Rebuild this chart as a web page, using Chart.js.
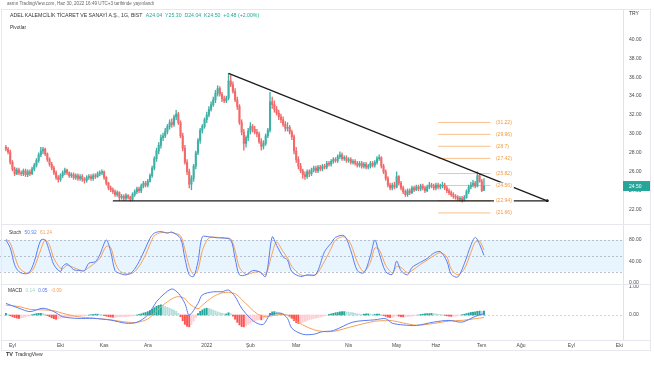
<!DOCTYPE html>
<html lang="tr">
<head>
  <meta charset="UTF-8">
  <title>ADEL - Günlük grafik</title>
  <script src="https://cdn.jsdelivr.net/npm/chart.js"></script>
  <style>
    body {
      margin: 0;
      width: 654px;
      height: 366px;
      position: relative;
      overflow: hidden;
      background: #fff;
      font-family: 'Liberation Sans', Arial, sans-serif;
      color: #131722;
    }
    canvas, .txt, .line { position: absolute; }
    .txt { white-space: nowrap; line-height: 1; }
    .line { background: #e6e8ee; }
    #pub { left: 7px; top: 2px; font-size: 4.6px; color: #666; }
    #title { left: 10px; top: 13px; font-size: 5.2px; color: #333; }
    #title .v { color: #26a69a; margin-left: 2px; }
    #piv { left: 10px; top: 26px; font-size: 4.8px; color: #333; }
    #unit { left: 629px; top: 11px; font-size: 5px; color: #333; }
    #stochLeg { left: 9px; top: 231px; font-size: 4.8px; color: #333; }
    #macdLeg { left: 8px; top: 289px; font-size: 4.8px; color: #333; }
    .blue { color: #5a7cf2; margin-left: 2px; }
    .orange { color: #f5a05a; margin-left: 2px; }
    .teal { color: #9fd6cf; margin-left: 2px; }
    #logo { left: 6px; top: 352px; font-size: 5px; color: #333; }
    #logo b { font-size: 5.5px; margin-right: 2px; }
  </style>
</head>
<body>

  <canvas id="priceChart" width="654" height="215" style="left:0;top:9px"></canvas>
  <canvas id="stochChart" width="654" height="59" style="left:0;top:225px"></canvas>
  <canvas id="macdChart" width="654" height="66" style="left:0;top:284px"></canvas>

  <div class="line" style="left:1px;top:9px;width:650px;height:1px"></div>
  <div class="line" style="left:1px;top:224px;width:650px;height:1px"></div>
  <div class="line" style="left:1px;top:284px;width:650px;height:1px"></div>
  <div class="line" style="left:1px;top:340px;width:650px;height:1px"></div>
  <div class="line" style="left:1px;top:350px;width:650px;height:1px"></div>
  <div class="line" style="left:1px;top:9px;width:1px;height:342px"></div>
  <div class="line" style="left:650px;top:9px;width:1px;height:342px"></div>

  <div class="txt" id="pub">asmn TradingView.com, Haz 30, 2022 16:49 UTC+3 tarihinde yayınlandı</div>
  <div class="txt" id="title">ADEL KALEMCİLİK TİCARET VE SANAYİ A.Ş., 1G, BIST <span class="v">A24.04 &nbsp;Y25.30 &nbsp;D24.04 &nbsp;K24.50 &nbsp;+0.48 (+2.00%)</span></div>
  <div class="txt" id="piv">Pivotlar</div>
  <div class="txt" id="unit">TRY</div>
  <div class="txt" id="stochLeg">Stoch <span class="blue">50.92</span> <span class="orange">61.24</span></div>
  <div class="txt" id="macdLeg">MACD <span class="teal">0.14</span> <span class="blue">0.05</span> <span class="orange">-0.09</span></div>
  <div class="txt" id="logo"><b>TV</b>TradingView</div>

  <script>
    // daily bars, index 0 = first trading day of Sep 2021
    const firstBar = -3;

    const openP = [
      28.6, 28.4, 28.1, 27.0, 26.3, 25.8, 26.2, 25.9, 25.8, 26.1,
      25.7, 26.0, 25.8, 26.3, 26.7, 27.2, 27.8, 28.2, 28.4, 27.9,
      27.3, 26.8, 26.4, 25.9, 25.4, 25.2, 25.6, 25.9, 26.2, 25.9,
      25.6, 25.7, 25.4, 25.6, 25.3, 25.5, 25.2, 25.1, 25.4, 25.5,
      25.3, 25.6, 25.5, 25.8, 25.9, 26.0, 25.4, 24.8, 24.3, 24.1,
      23.9, 23.6, 23.8, 23.3, 23.4, 23.2, 23.5, 23.3, 23.1, 23.6,
      23.9, 24.2, 24.0, 24.5, 24.8, 24.6, 25.0, 25.6, 26.4, 27.4,
      28.2, 28.8, 29.6, 29.8, 30.3, 30.8, 31.2, 31.0, 31.8, 32.1,
      31.2, 29.8, 28.5, 27.0, 26.0, 24.7, 25.3, 26.6, 28.0, 29.3,
      30.4, 30.8, 31.5, 32.0, 32.6, 33.1, 33.6, 34.3, 34.8, 34.2,
      33.7, 33.5, 33.8, 35.6, 35.2, 34.5, 33.6, 32.9, 31.2, 30.2,
      29.0, 29.6, 30.3, 30.8, 30.5, 30.2, 30.0, 29.2, 28.7, 29.0,
      29.8, 30.4, 33.4, 33.1, 32.6, 32.2, 31.8, 31.5, 31.0, 30.6,
      30.7, 30.2, 29.7, 28.2, 27.3, 26.6, 26.1, 25.7, 25.5, 26.0,
      25.8, 26.2, 26.4, 26.1, 26.5, 26.3, 26.6, 26.5, 26.9, 26.8,
      27.1, 27.3, 27.2, 27.6, 27.8, 27.4, 27.5, 27.2, 27.3, 27.0,
      27.1, 26.9, 26.7, 26.9, 26.6, 26.8, 26.5, 26.6, 26.9, 26.7,
      27.0, 27.4, 27.5, 26.6, 26.0, 25.3, 24.6, 24.3, 24.6, 24.4,
      25.5, 24.8, 24.3, 23.9, 23.6, 24.0, 23.8, 24.3, 24.1, 24.4,
      24.2, 24.5, 24.3, 24.0, 24.4, 24.6, 24.5, 24.3, 24.6, 24.4,
      24.5, 24.6, 24.3, 24.0, 23.8, 23.6, 23.4, 23.3, 23.1, 23.2,
      23.0, 23.3, 23.9, 24.4, 24.6, 24.8, 24.5, 25.6, 25.0, 24.04
    ];
    const highP = [
      28.8, 28.6, 28.3, 27.2, 26.5, 26.4, 26.4, 26.1, 26.3, 26.3,
      26.2, 26.2, 26.5, 26.9, 27.4, 28.0, 28.6, 28.6, 28.5, 28.0,
      27.5, 27.0, 26.6, 26.1, 25.6, 25.8, 26.1, 26.4, 26.3, 26.0,
      25.9, 25.9, 25.8, 25.8, 25.7, 25.7, 25.4, 25.6, 25.7, 25.7,
      25.8, 25.8, 26.0, 26.1, 26.2, 26.1, 25.5, 24.9, 24.5, 24.3,
      24.1, 24.0, 23.9, 23.6, 23.6, 23.7, 23.6, 23.4, 23.8, 24.1,
      24.4, 24.4, 24.7, 25.0, 25.0, 25.2, 25.8, 26.6, 27.6, 28.5,
      29.1, 29.9, 30.1, 30.6, 31.0, 31.5, 31.6, 32.0, 32.5, 32.3,
      31.4, 30.1, 28.8, 27.3, 26.3, 25.6, 26.8, 28.2, 29.5, 30.6,
      31.0, 31.7, 32.3, 32.9, 33.4, 33.9, 34.6, 35.1, 35.0, 34.4,
      34.0, 34.0, 36.4, 36.2, 35.5, 34.8, 33.9, 33.1, 31.5, 30.5,
      29.8, 30.6, 31.2, 31.0, 30.8, 30.5, 30.2, 29.5, 29.3, 30.0,
      30.6, 34.4, 33.9, 33.5, 32.9, 32.5, 32.1, 31.8, 31.3, 31.2,
      30.9, 30.4, 29.9, 28.6, 27.6, 26.9, 26.3, 26.0, 26.2, 26.2,
      26.4, 26.6, 26.6, 26.7, 26.7, 26.8, 26.8, 27.1, 27.1, 27.3,
      27.5, 27.5, 27.8, 28.1, 28.0, 27.7, 27.7, 27.5, 27.5, 27.3,
      27.3, 27.1, 27.1, 27.1, 27.0, 27.0, 26.8, 27.1, 27.1, 27.2,
      27.6, 27.8, 27.6, 26.8, 26.2, 25.5, 24.8, 24.8, 24.9, 26.0,
      25.6, 25.0, 24.5, 24.1, 24.2, 24.2, 24.5, 24.5, 24.6, 24.6,
      24.7, 24.7, 24.5, 24.6, 24.9, 24.8, 24.7, 24.8, 24.8, 24.7,
      24.9, 24.8, 24.5, 24.2, 24.0, 23.8, 23.6, 23.5, 23.4, 23.4,
      23.5, 24.1, 24.6, 24.9, 25.1, 25.0, 26.0, 25.8, 25.2, 25.30
    ];
    const lowP = [
      28.2, 27.9, 26.8, 26.1, 25.6, 25.7, 25.7, 25.6, 25.6, 25.5,
      25.5, 25.6, 25.7, 26.1, 26.5, 27.0, 27.6, 27.9, 27.7, 27.1,
      26.6, 26.2, 25.7, 25.2, 24.9, 25.0, 25.4, 25.7, 25.7, 25.4,
      25.4, 25.2, 25.2, 25.1, 25.1, 25.0, 24.8, 24.9, 25.2, 25.1,
      25.1, 25.3, 25.4, 25.6, 25.7, 25.2, 24.6, 24.1, 23.9, 23.7,
      23.4, 23.4, 22.95, 23.1, 22.95, 23.0, 23.1, 22.9, 22.95, 23.4,
      23.7, 23.8, 23.8, 24.3, 24.4, 24.4, 24.9, 25.4, 26.2, 27.1,
      27.9, 28.5, 29.3, 29.6, 30.0, 30.5, 30.7, 30.8, 31.5, 31.0,
      29.6, 28.2, 26.8, 25.7, 24.3, 24.1, 25.0, 26.3, 27.8, 29.0,
      30.1, 30.6, 31.2, 31.8, 32.4, 32.9, 33.3, 34.0, 34.0, 33.4,
      33.3, 33.3, 33.6, 35.0, 34.3, 33.4, 32.6, 31.0, 29.9, 28.3,
      28.6, 29.3, 30.0, 30.2, 30.0, 29.7, 29.0, 28.3, 28.4, 28.8,
      29.6, 30.2, 32.7, 32.3, 32.0, 31.5, 31.2, 30.8, 30.3, 30.3,
      30.0, 29.4, 27.9, 27.0, 26.3, 25.9, 25.3, 25.2, 25.3, 25.5,
      25.6, 26.0, 25.9, 25.9, 26.1, 26.1, 26.3, 26.3, 26.6, 26.6,
      26.9, 27.0, 27.0, 27.4, 27.2, 27.2, 27.0, 27.0, 26.8, 26.8,
      26.7, 26.5, 26.5, 26.4, 26.4, 26.3, 26.3, 26.4, 26.5, 26.5,
      26.8, 27.2, 26.4, 25.8, 25.1, 24.4, 24.1, 24.1, 24.2, 24.3,
      24.6, 24.1, 23.7, 23.4, 23.4, 23.6, 23.7, 23.9, 24.0, 24.0,
      24.0, 24.1, 23.8, 23.9, 24.2, 24.3, 24.1, 24.1, 24.2, 24.2,
      24.3, 24.1, 23.8, 23.6, 23.4, 23.2, 23.1, 22.95, 22.9, 22.8,
      22.9, 23.2, 23.7, 24.2, 24.4, 24.3, 24.4, 24.9, 23.9, 24.04
    ];
    const closeP = [
      28.4, 28.1, 27.0, 26.3, 25.8, 26.2, 25.9, 25.8, 26.1, 25.7,
      26.0, 25.8, 26.3, 26.7, 27.2, 27.8, 28.2, 28.4, 27.9, 27.3,
      26.8, 26.4, 25.9, 25.4, 25.2, 25.6, 25.9, 26.2, 25.9, 25.6,
      25.7, 25.4, 25.6, 25.3, 25.5, 25.2, 25.1, 25.4, 25.5, 25.3,
      25.6, 25.5, 25.8, 25.9, 26.0, 25.4, 24.8, 24.3, 24.1, 23.9,
      23.6, 23.8, 23.3, 23.4, 23.2, 23.5, 23.3, 23.1, 23.6, 23.9,
      24.2, 24.0, 24.5, 24.8, 24.6, 25.0, 25.6, 26.4, 27.4, 28.2,
      28.8, 29.6, 29.8, 30.3, 30.8, 31.2, 31.0, 31.8, 32.1, 31.2,
      29.8, 28.5, 27.0, 26.0, 24.7, 25.3, 26.6, 28.0, 29.3, 30.4,
      30.8, 31.5, 32.0, 32.6, 33.1, 33.6, 34.3, 34.8, 34.2, 33.7,
      33.5, 33.8, 35.6, 35.2, 34.5, 33.6, 32.9, 31.2, 30.2, 29.0,
      29.6, 30.3, 30.8, 30.5, 30.2, 30.0, 29.2, 28.7, 29.0, 29.8,
      30.4, 33.4, 33.1, 32.6, 32.2, 31.8, 31.5, 31.0, 30.6, 30.7,
      30.2, 29.7, 28.2, 27.3, 26.6, 26.1, 25.7, 25.5, 26.0, 25.8,
      26.2, 26.4, 26.1, 26.5, 26.3, 26.6, 26.5, 26.9, 26.8, 27.1,
      27.3, 27.2, 27.6, 27.8, 27.4, 27.5, 27.2, 27.3, 27.0, 27.1,
      26.9, 26.7, 26.9, 26.6, 26.8, 26.5, 26.6, 26.9, 26.7, 27.0,
      27.4, 27.5, 26.6, 26.0, 25.3, 24.6, 24.3, 24.6, 24.4, 25.5,
      24.8, 24.3, 23.9, 23.6, 24.0, 23.8, 24.3, 24.1, 24.4, 24.2,
      24.5, 24.3, 24.0, 24.4, 24.6, 24.5, 24.3, 24.6, 24.4, 24.5,
      24.6, 24.3, 24.0, 23.8, 23.6, 23.4, 23.3, 23.1, 23.2, 23.0,
      23.3, 23.9, 24.4, 24.6, 24.8, 24.5, 25.6, 25.0, 24.02, 24.50
    ];

    // drawings
    const trendIdx = [99, 245];
    const trendPrice = [36.4, 22.94];
    const supportIdx = [46, 245];
    const supportPrice = [22.94, 22.94];
    const pivotLevels = [31.22, 29.96, 28.7, 27.42, 25.82, 24.56, 22.94, 21.66];
    const pivotSpan = [195, 219];
    const pivotLabelAt = 221.5;

    // stochastic (sampled)
    const stochIdx = [-3, -1, 1, 3, 6, 8, 10, 13, 15, 17, 19, 22, 23, 25, 28, 31, 33, 35, 38, 40,
      43, 45, 47, 49, 52, 55, 58, 61, 63, 65, 68, 71, 73, 77, 79, 81, 83, 85, 87, 90,
      94, 96, 100, 102, 104, 107, 110, 113, 116, 119, 121, 124, 126, 128, 132, 135, 139, 143, 146, 148,
      152, 155, 158, 161, 164, 166, 168, 171, 174, 176, 178, 181, 183, 187, 190, 193, 196, 199, 201, 204,
      207, 210, 212, 214, 216];
    const stochK = [80, 65, 33, 20, 16, 20, 39, 80, 80, 58, 33, 20, 30, 35, 24, 22, 22, 36, 39, 52,
      80, 58, 22, 17, 14, 20, 39, 65, 83, 93, 96, 93, 95, 83, 45, 14, 11, 39, 86, 86,
      84, 84, 80, 45, 14, 14, 22, 20, 11, 86, 70, 48, 42, 20, 11, 14, 15, 58, 74, 85,
      88, 60, 22, 18, 50, 80, 55, 20, 15, 40, 22, 14, 28, 38, 45, 55, 58, 40, 15, 10,
      35, 70, 85, 72, 50.92];
    const stochD = [82, 74, 50, 28, 18, 18, 28, 62, 80, 70, 45, 26, 25, 32, 28, 23, 22, 28, 37, 45,
      68, 66, 38, 22, 16, 17, 30, 52, 72, 88, 94, 94, 94, 88, 62, 30, 14, 24, 60, 84,
      85, 84, 82, 60, 28, 15, 18, 20, 15, 55, 76, 58, 46, 30, 14, 13, 14, 40, 64, 80,
      86, 72, 38, 20, 38, 65, 62, 32, 18, 30, 28, 18, 22, 34, 42, 50, 56, 48, 25, 14,
      25, 56, 76, 78, 61.24];
    const stochBand = [80, 20];
    const stochLevels = [80, 50, 20];

    // MACD
    const macdIdx = [-3, 3, 8, 14, 19, 23, 30, 37, 45, 52, 57, 62, 66, 69, 73, 76, 79, 81, 85, 87,
      92, 96, 99, 102, 105, 109, 112, 115, 118, 123, 126, 128, 133, 138, 142, 147, 156, 166, 171, 174,
      179, 185, 193, 200, 206, 212, 216];
    const macdLine = [0.41, 0.24, 0.12, 0.24, 0.12, -0.06, -0.12, -0.12, -0.18, -0.29,
      -0.26, 0.00, 0.47, 0.71, 0.92, 0.77, 0.41, 0.00, 0.41, 0.71,
      0.82, 0.82, 0.88, 0.65, 0.24, -0.12, -0.29, -0.33, 0.00, 0.06,
      -0.12, -0.47, -0.68, -0.68, -0.59, -0.55, -0.25, -0.17, -0.13, -0.29,
      -0.35, -0.37, -0.25, -0.19, -0.25, -0.05, 0.05];
    const signalLine = [0.35, 0.30, 0.20, 0.18, 0.15, 0.06, -0.06, -0.11, -0.17, -0.25,
      -0.26, -0.14, 0.14, 0.35, 0.57, 0.65, 0.58, 0.40, 0.22, 0.35,
      0.65, 0.78, 0.80, 0.75, 0.55, 0.25, 0.05, -0.05, -0.04, 0.02,
      -0.01, -0.12, -0.35, -0.52, -0.58, -0.58, -0.40, -0.22, -0.20, -0.20,
      -0.28, -0.36, -0.30, -0.21, -0.19, -0.13, -0.09];
    const macdHist = [
      0.06, 0.02, -0.03, -0.06, -0.09, -0.11, -0.12, -0.10, -0.09, -0.07,
      -0.04, -0.02, 0.01, 0.03, 0.05, 0.06, 0.06, 0.05, 0.03, -0.02,
      -0.06, -0.10, -0.13, -0.15, -0.14, -0.12, -0.10, -0.08, -0.07, -0.06,
      -0.06, -0.05, -0.05, -0.04, -0.04, -0.03, -0.02, -0.01, 0.00, 0.01,
      0.02, 0.03, 0.03, 0.02, 0.01, -0.02, -0.04, -0.06, -0.07, -0.08,
      -0.08, -0.08, -0.07, -0.07, -0.06, -0.06, -0.05, -0.04, -0.03, -0.02,
      0.00, 0.02, 0.04, 0.07, 0.09, 0.12, 0.16, 0.21, 0.26, 0.31,
      0.34, 0.36, 0.33, 0.30, 0.27, 0.24, 0.20, 0.17, 0.13, 0.06,
      -0.06, -0.20, -0.33, -0.40, -0.42, -0.34, -0.22, -0.09, 0.05, 0.13,
      0.18, 0.22, 0.24, 0.23, 0.20, 0.17, 0.14, 0.11, 0.08, 0.06,
      0.04, 0.04, 0.08, 0.05, -0.04, -0.15, -0.26, -0.35, -0.41, -0.42,
      -0.38, -0.33, -0.28, -0.24, -0.21, -0.18, -0.16, -0.17, -0.15, -0.10,
      -0.05, 0.06, 0.11, 0.12, 0.11, 0.09, 0.07, 0.05, 0.03, 0.01,
      -0.05, -0.12, -0.20, -0.27, -0.30, -0.29, -0.26, -0.23, -0.19, -0.17,
      -0.15, -0.13, -0.11, -0.09, -0.07, -0.05, -0.03, -0.01, 0.02, 0.04,
      0.06, 0.08, 0.09, 0.11, 0.12, 0.12, 0.11, 0.10, 0.09, 0.08,
      0.06, 0.04, 0.03, 0.02, 0.03, 0.04, 0.04, 0.03, 0.02, 0.02,
      0.03, 0.03, 0.01, -0.02, -0.05, -0.08, -0.09, -0.08, -0.06, -0.03,
      -0.04, -0.06, -0.07, -0.07, -0.06, -0.05, -0.04, -0.03, -0.01, 0.00,
      0.02, 0.03, 0.04, 0.05, 0.05, 0.06, 0.05, 0.04, 0.03, 0.02,
      0.01, -0.01, -0.03, -0.04, -0.05, -0.05, -0.04, -0.03, -0.01, 0.01,
      0.03, 0.05, 0.07, 0.09, 0.10, 0.11, 0.13, 0.14, 0.13, 0.14
    ];

    // x axis: month starts (bar index) and labels
    const monthIdx = [0, 22, 42, 62, 89, 109, 130, 154, 176, 194, 215, 233, 256, 278];
    const monthLabels = ['Eyl', 'Eki', 'Kas', 'Ara', '2022', 'Şub', 'Mar', 'Nis', 'May', 'Haz', 'Tem', 'Ağu', 'Eyl', 'Eki'];

    const xMin = -5.7, xMax = 279.7;
    const FONT = "'Liberation Sans', Arial, sans-serif";
    const UP = '#3fb0a5', DOWN = '#f2696a';

    const bars = closeP.map((_, i) => firstBar + i);
    const candleColor = closeP.map((c, i) => c >= openP[i] ? UP : DOWN);
    const pts = (xs, ys) => xs.map((x, i) => ({ x, y: ys[i] }));

    function rightAxis(min, max, step) {
      return {
        position: 'right', min, max,
        grid: { display: false, drawTicks: false },
        border: { display: true, color: '#e0e3eb' },
        ticks: {
          stepSize: step, includeBounds: false, padding: 6,
          color: '#4a4a4a', font: { size: 5, family: FONT },
          callback: v => v.toFixed(2)
        },
        afterFit: s => { s.width = 27; s.paddingTop = 0; s.paddingBottom = 0; }
      };
    }
    // offset:false, otherwise bar charts pad the linear x range
    const hiddenX = { type: 'linear', min: xMin, max: xMax, offset: false, display: false };

    function baseOptions(scales) {
      return {
        responsive: false,
        animation: false,
        events: [],
        layout: { autoPadding: false, padding: { left: 0, right: 4, top: 0, bottom: 0 } },
        plugins: { legend: { display: false }, tooltip: { enabled: false } },
        scales
      };
    }

    const priceOverlay = {
      id: 'priceOverlay',
      afterDatasetsDraw(chart) {
        const { ctx, scales: { x, y } } = chart;
        ctx.save();
        ctx.font = '5px ' + FONT;
        ctx.textBaseline = 'middle';
        pivotLevels.forEach(lv => {
          const txt = '(' + lv + ')';
          const px = x.getPixelForValue(pivotLabelAt), py = y.getPixelForValue(lv);
          const w = ctx.measureText(txt).width;
          ctx.fillStyle = '#fff';
          ctx.fillRect(px - 2, py - 3, w + 4, 6);
          ctx.fillStyle = '#f29a3f';
          ctx.fillText(txt, px, py);
        });
        const last = closeP[closeP.length - 1];
        const ty = y.getPixelForValue(last);
        ctx.fillStyle = '#26a69a';
        ctx.fillRect(y.left, ty - 5, y.width, 10);
        ctx.fillStyle = '#fff';
        ctx.fillText(last.toFixed(2), y.left + 6, ty + 0.5);
        ctx.restore();
      }
    };

    const priceY = rightAxis(20.49, 43.2, 2);
    priceY.afterBuildTicks = s => { s.ticks = s.ticks.filter(t => t.value <= 40); };

    // small dot only at the apex end of the two drawn lines
    const apexDot = [0, 1.3];

    new Chart(document.getElementById('priceChart'), {
      type: 'bar',
      data: {
        datasets: [
          { type: 'line', data: pts(trendIdx, trendPrice), borderColor: '#1c1c1c', borderWidth: 1.3,
            pointRadius: apexDot, pointBackgroundColor: '#1c1c1c', pointBorderWidth: 0, order: 0 },
          { type: 'line', data: pts(supportIdx, supportPrice), borderColor: '#1c1c1c', borderWidth: 1.3,
            pointRadius: apexDot, pointBackgroundColor: '#1c1c1c', pointBorderWidth: 0, order: 0 },
          ...pivotLevels.map(lv => ({
            type: 'line', data: pts(pivotSpan, [lv, lv]),
            borderColor: '#f9c08c', borderWidth: 1, pointRadius: 0, order: 3
          })),
          { data: bars.map((x, i) => ({ x, y: [lowP[i], highP[i]] })), backgroundColor: candleColor, barThickness: 0.7, grouped: false, order: 2 },
          { data: bars.map((x, i) => ({ x, y: [openP[i], closeP[i]] })), backgroundColor: candleColor, barThickness: 1.4, minBarLength: 1, grouped: false, order: 1 }
        ]
      },
      options: baseOptions({ x: hiddenX, y: priceY }),
      plugins: [priceOverlay]
    });

    const stochBg = {
      id: 'stochBg',
      beforeDatasetsDraw(chart) {
        const { ctx, chartArea: a, scales: { y } } = chart;
        ctx.save();
        const top = y.getPixelForValue(stochBand[0]), bot = y.getPixelForValue(stochBand[1]);
        ctx.fillStyle = 'rgba(33,150,243,0.1)';
        ctx.fillRect(a.left, top, a.width, bot - top);
        ctx.strokeStyle = '#a9b1c2';
        ctx.lineWidth = 0.8;
        ctx.setLineDash([2, 2]);
        stochLevels.forEach(v => {
          const py = Math.round(y.getPixelForValue(v)) + 0.5;
          ctx.beginPath(); ctx.moveTo(a.left, py); ctx.lineTo(a.right, py); ctx.stroke();
        });
        ctx.restore();
      }
    };

    new Chart(document.getElementById('stochChart'), {
      type: 'line',
      data: {
        datasets: [
          { data: pts(stochIdx, stochK), borderColor: '#5a7cf2', borderWidth: 1, pointRadius: 0, tension: 0.3 },
          { data: pts(stochIdx, stochD), borderColor: '#f5a05a', borderWidth: 1, pointRadius: 0, tension: 0.3 }
        ]
      },
      options: baseOptions({ x: hiddenX, y: rightAxis(-3.3, 108.4, 40) }),
      plugins: [stochBg]
    });

    const zeroLine = {
      id: 'zeroLine',
      beforeDatasetsDraw(chart) {
        const { ctx, chartArea: a, scales: { y } } = chart;
        const py = Math.round(y.getPixelForValue(0)) + 0.5;
        ctx.save();
        ctx.strokeStyle = '#c4c8d0';
        ctx.lineWidth = 0.8;
        ctx.setLineDash([2, 2]);
        ctx.beginPath(); ctx.moveTo(a.left, py); ctx.lineTo(a.right, py); ctx.stroke();
        ctx.restore();
      }
    };

    const histColor = macdHist.map((h, i) => {
      const prev = i ? macdHist[i - 1] : h;
      if (h >= 0) return h >= prev ? '#26a69a' : '#b2dfdb';
      return h < prev ? '#ff5252' : '#ffcdd2';
    });

    new Chart(document.getElementById('macdChart'), {
      type: 'bar',
      data: {
        datasets: [
          { type: 'line', data: pts(macdIdx, macdLine), borderColor: '#5a7cf2', borderWidth: 1, pointRadius: 0, tension: 0.3, order: 0 },
          { type: 'line', data: pts(macdIdx, signalLine), borderColor: '#f5a05a', borderWidth: 1, pointRadius: 0, tension: 0.3, order: 0 },
          { data: pts(bars, macdHist), backgroundColor: histColor, barThickness: 1.3, grouped: false, order: 1 }
        ]
      },
      options: baseOptions({
        x: {
          type: 'linear', min: xMin, max: xMax, offset: false, position: 'bottom',
          grid: { display: false, drawTicks: false, offset: false },
          border: { display: false },
          afterBuildTicks: s => { s.ticks = monthIdx.map(v => ({ value: v })); },
          afterFit: s => { s.height = 10; s.paddingLeft = 0; s.paddingRight = 0; },
          ticks: {
            autoSkip: false, maxRotation: 0, padding: 3,
            color: '#4a4a4a', font: { size: 5, family: FONT },
            callback: (v, i) => monthLabels[i]
          }
        },
        y: rightAxis(-0.883, 1.095, 1)
      }),
      plugins: [zeroLine]
    });
  </script>
</body>
</html>
